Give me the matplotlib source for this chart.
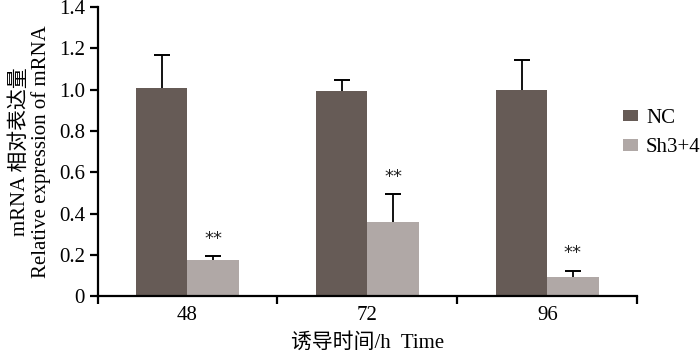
import numpy as np
import matplotlib.pyplot as plt

plt.rcParams['font.family'] = ['Liberation Serif', 'Noto Sans CJK SC']

# data
times = ["48", "72", "96"]
nc_mean = [1.006, 0.995, 1.000]
nc_err = [0.162, 0.052, 0.143]
sh_mean = [0.174, 0.360, 0.094]
sh_err = [0.020, 0.134, 0.029]
sig = ["**", "**", "**"]

NC_COLOR = '#665b56'
SH_COLOR = '#b0a8a6'

fig = plt.figure(figsize=(7, 3.55), dpi=100)
ax = fig.add_axes([0.1393, 0.166, 0.771, 0.814])

x = np.arange(len(times))
w = 0.285
ax.bar(x - w / 2, nc_mean, w, color=NC_COLOR, label="NC")
ax.bar(x + w / 2, sh_mean, w, color=SH_COLOR, label="Sh3+4")

# upper-only error bars with a single cap on top
for xs, m, e, cap in [(x - w / 2, nc_mean, nc_err, 12), (x + w / 2, sh_mean, sh_err, 11)]:
    top = np.array(m) + np.array(e)
    ax.vlines(xs, m, top, color='black', lw=1.3, zorder=3)
    ax.plot(xs, top, ls='none', marker='_', ms=cap, mew=1.4, color='black', zorder=3)

# significance stars above the knockdown bars
for i in range(len(times)):
    ax.text(x[i] + w / 2, sh_mean[i] + sh_err[i] + 0.04, sig[i], ha='center', va='bottom',
            fontsize=13, family='DejaVu Sans', color='#222222')

ax.set_xlim(-0.5, 2.5)
ax.set_ylim(0, 1.4)
ax.set_yticks(np.arange(0, 1.41, 0.2))
ax.set_yticklabels(["0", "0.2", "0.4", "0.6", "0.8", "1.0", "1.2", "1.4"])
ax.set_xticks([-0.5, 0.5, 1.5, 2.5])
ax.set_xticklabels([])
ax.set_xticks(x, minor=True)
ax.set_xticklabels(times, minor=True)
ax.tick_params(axis='x', which='minor', length=0, pad=7, labelsize=15)
ax.tick_params(axis='x', which='major', length=6, width=1.6, direction='out')
ax.tick_params(axis='y', length=6, width=1.6, direction='out', labelsize=15, pad=3)

for s in ['top', 'right']:
    ax.spines[s].set_visible(False)
for s in ['left', 'bottom']:
    ax.spines[s].set_linewidth(1.6)

ax.set_ylabel("mRNA 相对表达量\nRelative expression of mRNA", fontsize=15, linespacing=1.05, labelpad=6)
ax.set_xlabel("诱导时间/h  Time", fontsize=15, labelpad=6)

ax.legend(loc='center left', bbox_to_anchor=(0.89, 0.625), bbox_transform=fig.transFigure,
          frameon=False, fontsize=15, handlelength=0.7, handleheight=0.5, handletextpad=0.4,
          labelspacing=0.5, borderpad=0, borderaxespad=0)

fig.savefig("out.png", dpi=100)
